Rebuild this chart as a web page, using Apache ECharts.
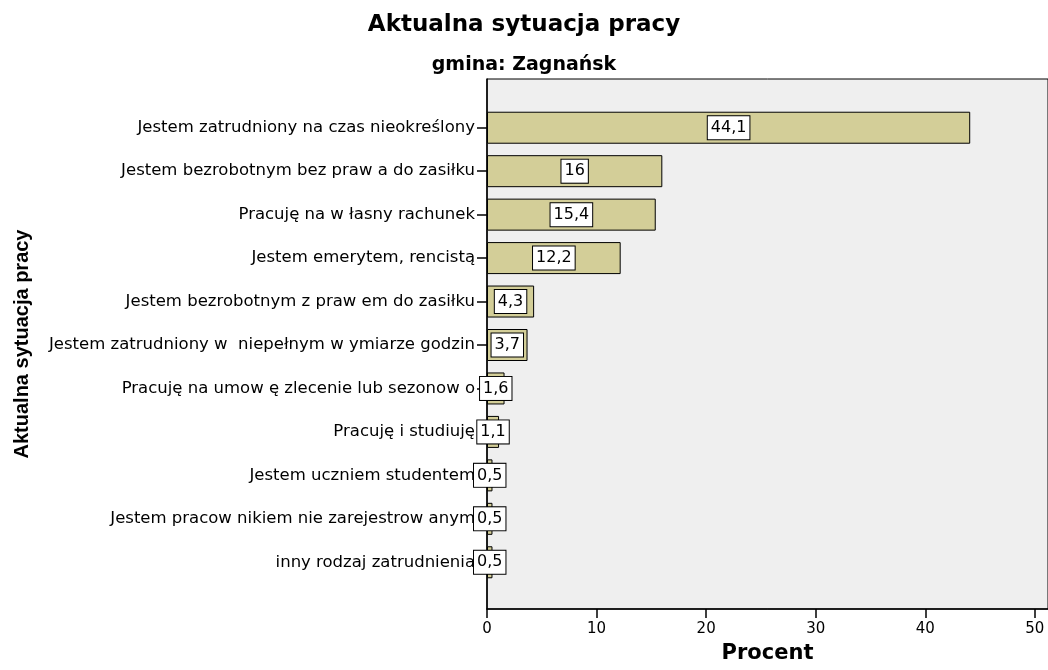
<!DOCTYPE html>
<html>
<head>
<meta charset="utf-8">
<script src="https://cdn.jsdelivr.net/npm/echarts@6/dist/echarts.min.js"></script>
<style>
  html, body { margin: 0; padding: 0; background: #fff; }
  #chart { width: 1048px; height: 670px; }
</style>
</head>
<body>
<div id="chart"></div>
<script>
// dane (procent)
const categories = [
  'Jestem zatrudniony na czas nieokreślony',
  'Jestem bezrobotnym bez praw a do zasiłku',
  'Pracuję na w łasny rachunek',
  'Jestem emerytem, rencistą',
  'Jestem bezrobotnym z praw em do zasiłku',
  'Jestem zatrudniony w  niepełnym w ymiarze godzin',
  'Pracuję na umow ę zlecenie lub sezonow o',
  'Pracuję i studiuję',
  'Jestem uczniem studentem',
  'Jestem pracow nikiem nie zarejestrow anym',
  'inny rodzaj zatrudnienia'
]
const percents = [44.1, 16, 15.4, 12.2, 4.3, 3.7, 1.6, 1.1, 0.5, 0.5, 0.5]
const xTicks = [0, 10, 20, 30, 40, 50]

const font = 'DejaVu Sans, sans-serif'
const xMax = 51.2

const chart = echarts.init(document.getElementById('chart'))

let option = {
  backgroundColor: '#ffffff',
  animation: false,
  title: [
    {
      text: 'Aktualna sytuacja pracy',
      left: 'center',
      top: 9,
      textStyle: { fontFamily: font, fontWeight: 'bold', fontSize: 23, color: '#000' },
    },
    {
      text: 'gmina: Zagnańsk',
      left: 'center',
      top: 51,
      textStyle: { fontFamily: font, fontWeight: 'bold', fontSize: 19, color: '#000' },
    },
  ],
  grid: [
    // ramka i tło obszaru wykresu
    {
      left: 487, right: 0, top: 79, bottom: 61,
      containLabel: false, outerBoundsMode: 'none',
      show: true, backgroundColor: '#efefef', borderColor: '#000', borderWidth: 1,
    },
    // słupki
    { left: 487, right: 0, top: 106, bottom: 86, containLabel: false, outerBoundsMode: 'none' },
  ],
  xAxis: [
    {
      gridIndex: 0,
      type: 'value',
      min: 0,
      max: xMax,
      interval: 10,
      name: 'Procent',
      nameLocation: 'middle',
      nameGap: 34,
      nameTextStyle: { fontFamily: font, fontWeight: 'bold', fontSize: 21, color: '#000' },
      axisLine: { show: true, lineStyle: { color: '#000', width: 1.5 } },
      axisTick: { show: true, length: 9, lineStyle: { color: '#000', width: 1.5 } },
      axisLabel: {
        fontFamily: font, fontSize: 15, color: '#000', margin: 13,
        showMaxLabel: false,
        formatter: (v) => (xTicks.includes(v) ? String(v) : ''),
      },
      splitLine: { show: false },
    },
    {
      gridIndex: 1,
      type: 'value',
      min: 0,
      max: xMax,
      show: false,
    },
  ],
  yAxis: [
    {
      gridIndex: 0,
      type: 'value',
      axisLine: { show: true, onZero: false, lineStyle: { color: '#000', width: 1.5 } },
      axisTick: { show: false },
      axisLabel: { show: false },
      splitLine: { show: false },
      name: 'Aktualna sytuacja pracy',
      nameLocation: 'middle',
      nameRotate: 90,
      nameGap: 455,
      nameTextStyle: {
        fontFamily: 'Liberation Sans, Arial, sans-serif',
        fontWeight: 'bold', fontSize: 20, color: '#000',
      },
    },
    {
      gridIndex: 1,
      type: 'category',
      inverse: true,
      data: categories,
      axisLine: { show: false },
      axisTick: { show: true, alignWithLabel: true, length: 10, lineStyle: { color: '#000', width: 1.5 } },
      axisLabel: { fontFamily: font, fontSize: 16.5, color: '#000', margin: 12, interval: 0 },
    },
  ],
  series: [
    {
      type: 'bar',
      xAxisIndex: 1,
      yAxisIndex: 1,
      data: percents,
      barWidth: 32,
      itemStyle: { color: '#d3ce98', borderColor: '#000', borderWidth: 1 },
      label: {
        show: true,
        position: 'inside',
        formatter: (p) => String(p.value).replace('.', ','),
        fontFamily: font,
        fontSize: 16,
        lineHeight: 18,
        color: '#000',
        backgroundColor: '#fff',
        borderColor: '#000',
        borderWidth: 1,
        padding: [3, 3, 2, 3],
      },
    },
  ],
}

chart.setOption(option)
</script>
</body>
</html>
